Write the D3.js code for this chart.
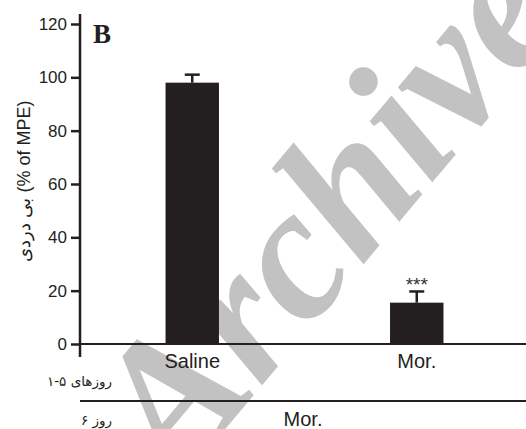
<!DOCTYPE html>
<html>
<head>
<meta charset="utf-8">
<script src="https://cdn.jsdelivr.net/npm/d3@7"></script>
<style>
  html, body { margin: 0; padding: 0; background: #fff; }
  svg { display: block; }
  .stamp { font-family: 'Liberation Serif', 'DejaVu Serif', serif; font-style: italic; font-weight: 700; }
</style>
</head>
<body>
<svg id="chart" width="526" height="429"></svg>
<script>
// Antinociception on day 6 after saline or morphine pretreatment (days 1-5)
const groups = ["Saline", "Mor."];
const meanMPE = [98, 15.5];
const semMPE = [3, 4.2];
const significance = ["", "***"];
const yTicks = [0, 20, 40, 60, 80, 100, 120];
const day6Treatment = "Mor.";
const rowLabels = ["روزهای ۵-۱", "روز ۶"];
const yLabel = "بی دردی (% of MPE)";
const panelLetter = "B";

const ink = "#231f20";
const sans = "'Liberation Sans', Arial, sans-serif";
const svg = d3.select("#chart");

// faint background stamp
svg.append("text")
  .attr("class", "stamp")
  .attr("transform", "translate(338,220) rotate(-50)")
  .attr("text-anchor", "middle")
  .attr("y", 48)
  .attr("font-size", 190)
  .attr("fill", "#c2c2c2")
  .text("Archive");

const x = d3.scaleBand().domain(groups).range([80, 529])
  .paddingInner(0.762).paddingOuter(0.381);
const y = d3.scaleLinear().domain([0, 120]).range([344, 24]);

// bars
svg.selectAll("rect.bar").data(groups).join("rect")
  .attr("class", "bar")
  .attr("x", d => x(d))
  .attr("width", x.bandwidth())
  .attr("y", (d, i) => y(meanMPE[i]))
  .attr("height", (d, i) => y(0) - y(meanMPE[i]))
  .attr("fill", ink);

// error bars (upper only)
groups.forEach((g, i) => {
  const cx = x(g) + x.bandwidth() / 2;
  const top = y(meanMPE[i] + semMPE[i]);
  svg.append("line")
    .attr("x1", cx).attr("x2", cx)
    .attr("y1", y(meanMPE[i])).attr("y2", top)
    .attr("stroke", ink).attr("stroke-width", 2.5);
  svg.append("line")
    .attr("x1", cx - 7.5).attr("x2", cx + 7.5)
    .attr("y1", top).attr("y2", top)
    .attr("stroke", ink).attr("stroke-width", 2.5);
  if (significance[i]) {
    svg.append("text")
      .attr("x", cx).attr("y", top)
      .attr("text-anchor", "middle")
      .attr("font-family", sans)
      .attr("font-size", 19)
      .attr("fill", "#333")
      .text(significance[i]);
  }
});

// y axis
const yAxis = svg.append("g")
  .attr("transform", "translate(80,0)")
  .call(d3.axisLeft(y).tickValues(yTicks).tickSize(9).tickPadding(4));
yAxis.select(".domain").remove();
yAxis.selectAll(".tick line").attr("stroke", ink).attr("stroke-width", 2.5);
yAxis.selectAll(".tick text")
  .attr("font-family", sans)
  .attr("font-size", 17)
  .attr("fill", ink);
svg.append("line")
  .attr("x1", 80).attr("x2", 80)
  .attr("y1", y(120) - 10).attr("y2", y(0) + 13)
  .attr("stroke", ink).attr("stroke-width", 2.5);

// baseline and treatment-row separator
[y(0), 401].forEach(ly => {
  svg.append("line")
    .attr("x1", 80).attr("x2", 526)
    .attr("y1", ly).attr("y2", ly)
    .attr("stroke", ink).attr("stroke-width", 2);
});

// group labels (days 1-5)
svg.selectAll("text.grp").data(groups).join("text")
  .attr("class", "grp")
  .attr("x", d => x(d) + x.bandwidth() / 2)
  .attr("y", 368)
  .attr("text-anchor", "middle")
  .attr("font-family", sans)
  .attr("font-size", 20)
  .attr("fill", ink)
  .text(d => d);

// day 6 treatment
svg.append("text")
  .attr("x", (80 + 526) / 2).attr("y", 426)
  .attr("text-anchor", "middle")
  .attr("font-family", sans)
  .attr("font-size", 20)
  .attr("fill", ink)
  .text(day6Treatment);

// row labels
[386, 425].forEach((ly, i) => {
  svg.append("text")
    .attr("x", 112).attr("y", ly)
    .attr("text-anchor", "end")
    .attr("font-family", "'DejaVu Sans', sans-serif")
    .attr("font-size", 13.5)
    .attr("fill", ink)
    .text(rowLabels[i]);
});

// y axis title
svg.append("text")
  .attr("transform", "translate(30,181) rotate(-90)")
  .attr("text-anchor", "middle")
  .attr("font-family", sans)
  .attr("font-size", 18)
  .attr("fill", ink)
  .text(yLabel);

// panel letter
svg.append("text")
  .attr("x", 93).attr("y", 43)
  .attr("font-family", "'Liberation Serif', 'DejaVu Serif', serif")
  .attr("font-weight", "bold")
  .attr("font-size", 27)
  .attr("fill", ink)
  .text(panelLetter);
</script>
</body>
</html>
